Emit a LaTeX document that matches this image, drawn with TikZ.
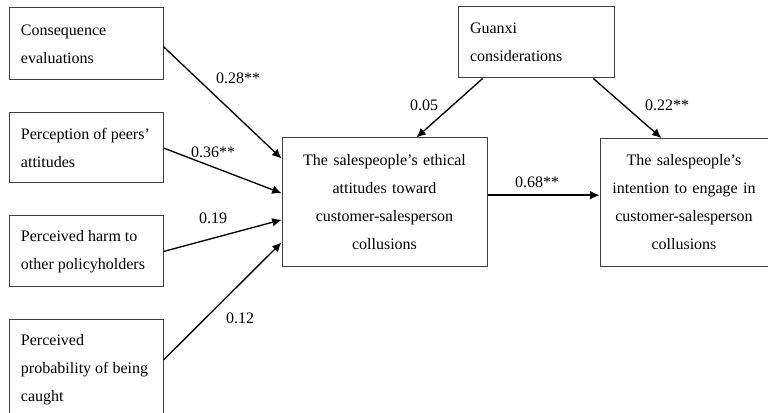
\documentclass[tikz,border=0pt]{standalone}
\usepackage{fontspec}
\setmainfont{Liberation Serif}
\usetikzlibrary{positioning, arrows.meta}

\tikzset{
  factor/.style={draw=black!75, line width=0.75pt, inner xsep=9pt, inner ysep=3pt,
    text width=97.5pt, align=flush left, font=\fontsize{12}{21}\selectfont},
  outcome/.style={draw=black!75, line width=0.75pt, inner xsep=6pt, inner ysep=3pt,
    align=center, font=\fontsize{12}{21}\selectfont},
  coef/.style={font=\fontsize{12}{14}\selectfont, inner sep=1pt},
  path/.style={-{Latex[length=7pt,width=6.5pt]}, line width=1pt}
}

\begin{document}
\begin{tikzpicture}[x=0.75pt, y=-0.75pt, node distance=24pt]
    \useasboundingbox (0,0) rectangle (768,413);
    % antecedents
    \node[factor, minimum height=54pt] (cons) at (86,44) {Consequence\\evaluations};
    \node[factor, minimum height=52.5pt] (peers) [below=of cons] {Perception of peers'\\attitudes};
    \node[factor, minimum height=53.25pt] (harm) [below=of peers] {Perceived harm to\\other policyholders};
    \node[factor, minimum height=75pt] (caught) [below=of harm] {Perceived\\probability of being\\caught};
    % attitudes, moderator and intention
    \node[outcome, text width=141.75pt, minimum height=96.75pt] (att) at (384.5,202.5) {The salespeople's ethical\\attitudes toward\\customer-salesperson\\collusions};
    \node[factor, text width=99pt, minimum height=53.25pt] (guanxi) at (536,42.5) {Guanxi\\considerations};
    \node[outcome, text width=114pt, minimum height=96pt] (intent) [right=84pt of att] {The salespeople's\\intention to engage in\\customer-salesperson\\collusions};
    % paths
    \draw[path] ([yshift=-2pt]cons.east) -- ([yshift=33pt]att.west);
    \draw[path] (peers.east) -- ([yshift=7pt]att.west);
    \draw[path] (harm.east) -- ([yshift=-13pt]att.west);
    \draw[path] ([yshift=7.5pt]caught.east) -- ([yshift=-30pt]att.west);
    \draw[path] ([xshift=-40pt]guanxi.south) -- ([xshift=24pt]att.north);
    \draw[path] ([xshift=43pt]guanxi.south) -- ([xshift=-17pt]intent.north);
    \coordinate (mid) at ([yshift=5.5pt]att.east);
    \draw[path] (mid) -- (mid -| intent.west);
    % coefficients
    \node[coef] (c28) at (238,78) {0.28**};
    \node[coef] (c36) at (213,152) {0.36**};
    \node[coef] (c19) at (213,218) {0.19};
    \node[coef] (c12) at (240,318) {0.12};
    \node[coef] (c05) at (424,105) {0.05};
    \node[coef] (c22) at (667,105) {0.22**};
    \node[coef] (c68) at (537,182) {0.68**};
\end{tikzpicture}
\end{document}
